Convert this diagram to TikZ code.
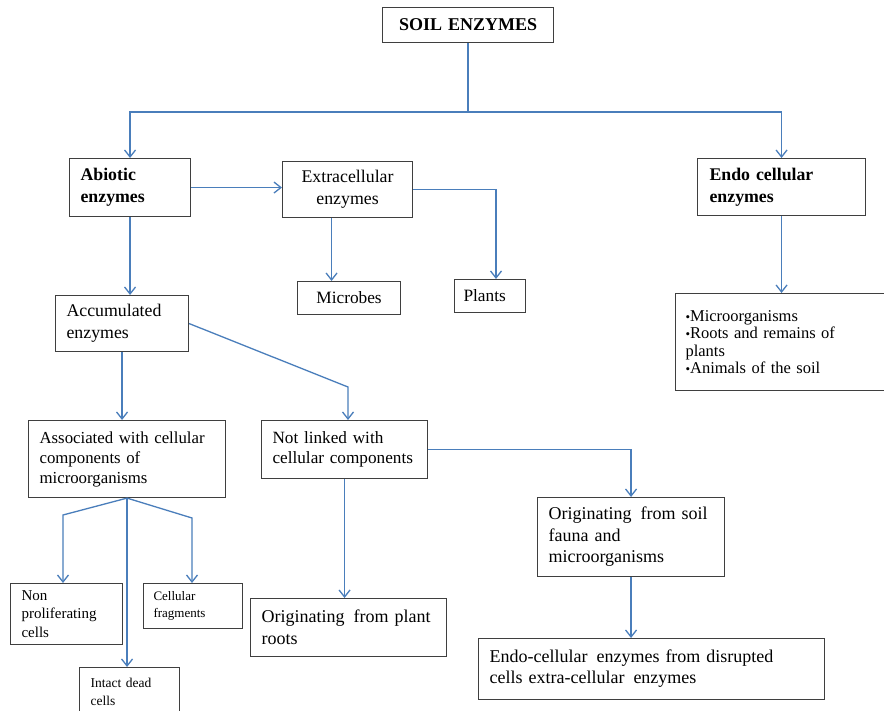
\documentclass[tikz,border=0pt]{standalone}
\usepackage{fontspec}
\setmainfont{Liberation Serif}
\usetikzlibrary{arrows.meta,calc}
\definecolor{linkblue}{HTML}{4A7EBB}
\definecolor{boxgray}{HTML}{3F3F3F}
\newcommand\blt{{\fontsize{13}{17}\selectfont\textbullet}}
\newcommand\wsp{\hspace{0.5em}}

\tikzset{
  box/.style={draw=boxgray, line width=1.1pt, rectangle, anchor=north west,
              inner ysep=0pt, align=left},
  conn/.style={draw=linkblue, line width=1.3pt},
  arr/.style={conn, -{Straight Barb[length=7pt,width=11pt]}},
}

\begin{document}
\begin{tikzpicture}[x=1pt,y=-1pt]
  \fill[white] (0,0) rectangle (884,711);
  \useasboundingbox (0,0) rectangle (884,711);

  % top level
  \node[box, align=center, text width=161pt, inner xsep=5pt, minimum height=35pt,
        font=\fontsize{18}{22}\selectfont\bfseries] (soil) at (382,7) {SOIL ENZYMES};

  % second level
  \node[box, text width=99pt, inner xsep=11pt, minimum height=58pt,
        font=\fontsize{17.8}{22}\selectfont\bfseries] (abiotic) at (69,158) {Abiotic\\enzymes};
  \node[box, align=center, text width=120pt, inner xsep=5pt, minimum height=56pt,
        font=\fontsize{17.8}{22}\selectfont] (extra) at (282,161) {Extracellular\\enzymes};
  \node[box, text width=144pt, inner xsep=12pt, minimum height=57pt,
        font=\fontsize{17.8}{22}\selectfont\bfseries] (endo) at (697,158) {Endo cellular\\enzymes};

  % sources of extracellular enzymes
  \node[box, align=center, text width=93pt, inner xsep=5pt, minimum height=33pt,
        font=\fontsize{17.3}{21}\selectfont] (microbes) at (297,281) {Microbes};
  \node[box, text width=53pt, inner xsep=9pt, minimum height=33pt,
        font=\fontsize{17.3}{21}\selectfont] (plants) at (454,279) {Plants};

  % sources of endocellular enzymes
  \node[box, text width=189pt, inner xsep=10pt, minimum height=97pt,
        font=\fontsize{16.5}{17.3}\selectfont] (list) at (675,293)
        {\blt Microorganisms\\\blt Roots and remains of\\plants\\\blt Animals of the soil};

  % accumulated enzymes branch
  \node[box, text width=111pt, inner xsep=11pt, minimum height=56pt,
        font=\fontsize{17.8}{22}\selectfont] (accum) at (55,295) {Accumulated\\enzymes};
  \node[box, text width=175pt, inner xsep=11pt, minimum height=77pt,
        font=\fontsize{16.8}{20}\selectfont] (assoc) at (28,420)
        {Associated with cellular\\components of\\microorganisms};
  \node[box, text width=144pt, inner xsep=11pt, minimum height=58pt,
        font=\fontsize{17.2}{20.5}\selectfont] (notlinked) at (261,420)
        {Not linked with\\cellular components};

  \node[box, text width=165pt, inner xsep=11pt, minimum height=79pt,
        font=\fontsize{18}{21.5}\selectfont] (origsoil) at (537,497)
        {Originating\wsp from soil\\fauna and\\microorganisms};
  \node[box, text width=174pt, inner xsep=11pt, minimum height=58pt,
        font=\fontsize{18}{22}\selectfont] (origplant) at (250,598)
        {Originating\wsp from plant\\roots};
  \node[box, text width=324pt, inner xsep=11pt, minimum height=61pt,
        font=\fontsize{18}{21}\selectfont] (endocell) at (478,638)
        {Endo-cellular\wsp enzymes from disrupted\\cells extra-cellular\wsp enzymes};

  % cellular components
  \node[box, text width=90pt, inner xsep=11pt, minimum height=61pt,
        font=\fontsize{15}{18.5}\selectfont] (nonprolif) at (10,583)
        {Non\\proliferating\\cells};
  \node[box, text width=79pt, inner xsep=10pt, minimum height=45pt,
        font=\fontsize{13}{17}\selectfont] (frag) at (143,583)
        {Cellular\\fragments};
  \node[box, text width=78pt, inner xsep=11pt, minimum height=48pt,
        font=\fontsize{13.5}{18}\selectfont] (intact) at (79,667)
        {Intact dead\\cells};

  % bend points
  \coordinate (hbar) at (0,112);
  \coordinate (split) at (soil.south |- hbar);
  \coordinate (plantsx) at (496,0);
  \coordinate (accbend) at (348,387);
  \coordinate (fanL) at (63,515);
  \coordinate (fanR) at (192,518);

  % connectors
  \draw[conn] (soil.south) -- (split);
  \draw[arr] (split) -| (abiotic.north);
  \draw[arr] (split) -| (endo.north);

  \draw[arr] (abiotic.east) -- (abiotic.east -| extra.west);
  \draw[arr] ([xshift=-16pt]extra.south) -- ([xshift=-16pt]extra.south |- microbes.north);
  \draw[arr] (extra.east) -- (extra.east -| plantsx) -- (plantsx |- plants.north);

  \draw[arr] (endo.south) -- (endo.south |- list.north);

  \draw[arr] (abiotic.south) -- (abiotic.south |- accum.north);
  \draw[arr] (accum.south) -- (accum.south |- assoc.north);
  \draw[arr] (accum.east) -- (accbend) -- (accbend |- notlinked.north);

  \draw[arr] (assoc.south) -- (fanL) -- (fanL |- nonprolif.north);
  \draw[arr] (assoc.south) -- (fanR) -- (fanR |- frag.north);
  \draw[arr] (assoc.south) -- (assoc.south |- intact.north);

  \draw[arr] (notlinked.south) -- (notlinked.south |- origplant.north);
  \draw[arr] (notlinked.east) -| (origsoil.north);
  \draw[arr] (origsoil.south) -- (origsoil.south |- endocell.north);
\end{tikzpicture}
\end{document}
